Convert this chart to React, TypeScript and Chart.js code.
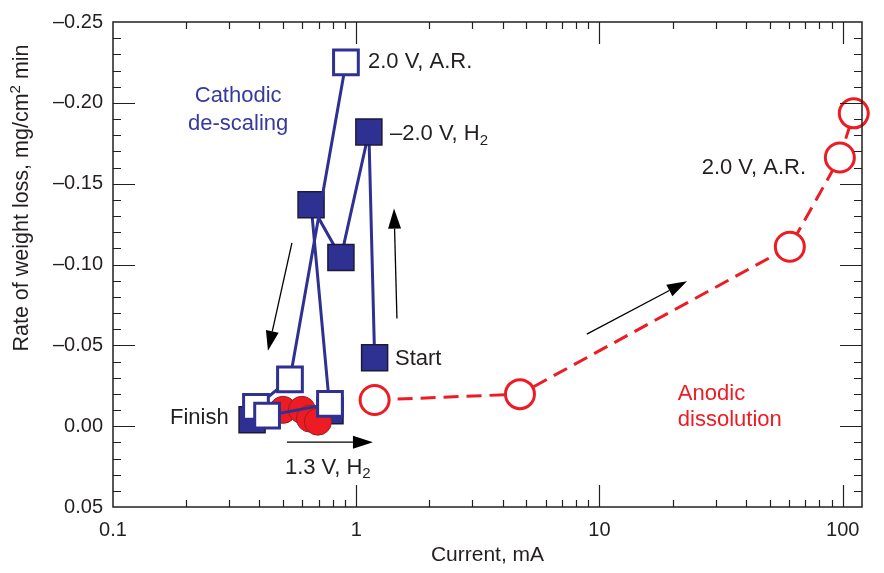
import React, { useEffect, useRef } from 'react';
import { Chart, registerables } from 'chart.js';

Chart.register(...registerables);

// ---------- data ----------
// Anodic dissolution, 2.0 V, A.R. (open red circles, dashed)
const anodicArCurrent = [1.19, 4.71, 60.6, 97.3, 111];
const anodicArRate = [-0.0162, -0.0198, -0.111, -0.1662, -0.1935];
// 1.3 V, H2 (filled red circles)
const anodicH2Current = [0.5, 0.598, 0.645, 0.696];
const anodicH2Rate = [-0.0101, -0.0101, -0.0047, -0.0028];
// Cathodic de-scaling, -2.0 V, H2 (filled blue squares): Start ... Finish
const cathodicH2Current = [1.19, 1.127, 0.865, 0.652, 0.78, 0.373];
const cathodicH2Rate = [-0.0423, -0.182, -0.1043, -0.137, -0.0095, -0.004];
// Cathodic, 2.0 V, A.R. (open blue squares)
const cathodicArCurrent = [0.907, 0.534, 0.387, 0.43, 0.78];
const cathodicArRate = [-0.225, -0.029, -0.012, -0.0065, -0.0138];

const xTickValues = [0.1, 1, 10, 100];
const xTickLabels = ['0.1', '1', '10', '100'];
const yTickValues = [-0.25, -0.2, -0.15, -0.1, -0.05, 0, 0.05];
const yTickLabels = ['\u20130.25', '\u20130.20', '\u20130.15', '\u20130.10', '\u20130.05', '0.00', '0.05'];

const xTitle = 'Current, mA';
const yTitleParts = [{ t: 'Rate of weight loss, mg/cm' }, { t: '2', s: 'sup' }, { t: ' min' }];

// annotation text anchors in data coordinates (current, rate)
const noteParts = [
  [{ t: '2.0 V, A.R.' }],
  [{ t: '\u20132.0 V, H' }, { t: '2', s: 'sub' }],
  [{ t: 'Cathodic' }],
  [{ t: 'de-scaling' }],
  [{ t: 'Start' }],
  [{ t: 'Finish' }],
  [{ t: '1.3 V, H' }, { t: '2', s: 'sub' }],
  [{ t: '2.0 V, A.R.' }],
  [{ t: 'Anodic' }],
  [{ t: 'dissolution' }],
];
const noteX = [1.117, 1.376, 0.327, 0.327, 1.443, 0.1715, 0.509, 26.3, 21.0, 21.0];
const noteY = [-0.2251, -0.1808, -0.2045, -0.1868, -0.0417, -0.0053, 0.0257, -0.1597, -0.0198, -0.004];
const noteAlign = ['left', 'left', 'center', 'center', 'left', 'left', 'left', 'left', 'left', 'left'];
const noteColor = ['ink', 'ink', 'blue', 'blue', 'ink', 'ink', 'ink', 'ink', 'red', 'red'];

// arrows (from -> to) in data coordinates
const arrowFromX = [0.544, 1.47, 0.519, 8.87];
const arrowFromY = [-0.1134, -0.0666, 0.0099, -0.0569];
const arrowToX = [0.4335, 1.43, 1.171, 22.9];
const arrowToY = [-0.0466, -0.1346, 0.0099, -0.0897];

// ---------- styling ----------
const INK = '#231f20';
const BLUE = '#2e3192';
const BLUE_TEXT = '#3639a0';
const RED = '#ed1c24';
const FONT = '"Liberation Sans", Arial, Helvetica, sans-serif';
const TICK_SIZE = 20;
const NOTE_SIZE = 22;
const X_TITLE_SIZE = 21;
const Y_TITLE_SIZE = 21.5;

const colorOf = (c: string) => (c === 'blue' ? BLUE_TEXT : c === 'red' ? RED : INK);

const toXY = (xs: number[], ys: number[]) => xs.map((x, i) => ({ x, y: ys[i] }));

function drawRich(ctx: CanvasRenderingContext2D, parts: any[], x: number, y: number, align: string, size: number, color: string) {
  const small = Math.round(size * 0.7);
  const widths = parts.map((p) => {
    ctx.font = `${p.s ? small : size}px ${FONT}`;
    return ctx.measureText(p.t).width;
  });
  const total = widths.reduce((a, b) => a + b, 0);
  let cx = align === 'center' ? x - total / 2 : align === 'right' ? x - total : x;
  ctx.fillStyle = color;
  ctx.textBaseline = 'middle';
  ctx.textAlign = 'left';
  parts.forEach((p, i) => {
    ctx.font = `${p.s ? small : size}px ${FONT}`;
    const dy = p.s === 'sub' ? size * 0.3 : p.s === 'sup' ? -size * 0.3 : 0;
    ctx.fillText(p.t, cx, y + dy);
    cx += widths[i];
  });
}

const overlay = {
  id: 'overlay',
  afterDatasetsDraw(chart: any) {
    const { ctx, chartArea: a } = chart;
    const xs = chart.scales.x;
    const ys = chart.scales.y;
    ctx.save();
    // ticks (inward)
    ctx.strokeStyle = INK;
    ctx.lineWidth = 1.2;
    ctx.beginPath();
    [0.1, 1, 10].forEach((d) => {
      [2, 3, 4, 5, 6, 7, 8, 9].forEach((m) => {
        const px = Math.round(xs.getPixelForValue(d * m)) + 0.5;
        ctx.moveTo(px, a.bottom); ctx.lineTo(px, a.bottom - 7);
        ctx.moveTo(px, a.top); ctx.lineTo(px, a.top + 7);
      });
    });
    xTickValues.slice(1).forEach((v) => {
      const px = Math.round(xs.getPixelForValue(v)) + 0.5;
      ctx.moveTo(px, a.bottom); ctx.lineTo(px, a.bottom - 22);
      ctx.moveTo(px, a.top); ctx.lineTo(px, a.top + 22);
    });
    for (let i = 1; i < 30; i++) {
      const v = -0.25 + i * 0.01;
      const py = Math.round(ys.getPixelForValue(v)) + 0.5;
      const major = i % 5 === 0;
      ctx.moveTo(a.left, py); ctx.lineTo(a.left + (major ? 22 : 8), py);
      ctx.moveTo(a.right, py); ctx.lineTo(a.right - (major ? 22 : 8), py);
    }
    ctx.stroke();
    // frame
    ctx.lineWidth = 1.5;
    ctx.strokeRect(a.left, a.top, a.right - a.left, a.bottom - a.top);

    // arrows
    ctx.strokeStyle = '#000';
    ctx.fillStyle = '#000';
    ctx.lineWidth = 1.3;
    arrowFromX.forEach((_, i) => {
      const x0 = xs.getPixelForValue(arrowFromX[i]);
      const y0 = ys.getPixelForValue(arrowFromY[i]);
      const x1 = xs.getPixelForValue(arrowToX[i]);
      const y1 = ys.getPixelForValue(arrowToY[i]);
      const ang = Math.atan2(y1 - y0, x1 - x0);
      const L = 20, W = 6.5;
      const bx = x1 - L * Math.cos(ang), by = y1 - L * Math.sin(ang);
      ctx.beginPath();
      ctx.moveTo(x0, y0); ctx.lineTo(bx, by);
      ctx.stroke();
      ctx.beginPath();
      ctx.moveTo(x1, y1);
      ctx.lineTo(bx + W * Math.sin(ang), by - W * Math.cos(ang));
      ctx.lineTo(bx - W * Math.sin(ang), by + W * Math.cos(ang));
      ctx.closePath();
      ctx.fill();
    });

    // notes
    noteParts.forEach((parts, i) => {
      drawRich(ctx, parts, xs.getPixelForValue(noteX[i]), ys.getPixelForValue(noteY[i]), noteAlign[i], NOTE_SIZE, colorOf(noteColor[i]));
    });

    // axis titles
    drawRich(ctx, [{ t: xTitle }], (a.left + a.right) / 2, a.bottom + 48, 'center', X_TITLE_SIZE, INK);
    ctx.translate(22, a.top + 176);
    ctx.rotate(-Math.PI / 2);
    drawRich(ctx, yTitleParts, 0, 0, 'center', Y_TITLE_SIZE, INK);
    ctx.restore();
  },
};

export default function App() {
  const ref = useRef<HTMLCanvasElement | null>(null);
  useEffect(() => {
    if (!ref.current) return;
    const chart = new Chart(ref.current, {
      type: 'scatter',
      data: {
        datasets: [
          {
            label: 'Cathodic 2.0 V A.R.',
            data: toXY(cathodicArCurrent, cathodicArRate),
            showLine: true,
            borderColor: BLUE,
            borderWidth: 3,
            pointStyle: 'rect',
            pointRadius: 17.5,
            pointBorderWidth: 3,
            pointBackgroundColor: '#ffffff',
            pointBorderColor: BLUE,
            clip: false,
          },
          {
            label: '1.3 V H2',
            data: toXY(anodicH2Current, anodicH2Rate),
            showLine: true,
            borderColor: RED,
            borderWidth: 2,
            pointStyle: 'circle',
            pointRadius: 13.5,
            pointBorderWidth: 1,
            pointBackgroundColor: RED,
            pointBorderColor: '#9e1b1f',
            clip: false,
          },
          {
            label: '-2.0 V H2',
            data: toXY(cathodicH2Current, cathodicH2Rate),
            showLine: true,
            borderColor: BLUE,
            borderWidth: 3,
            pointStyle: 'rect',
            pointRadius: 18.4,
            pointBorderWidth: 1.5,
            pointBackgroundColor: BLUE,
            pointBorderColor: '#1c1a3c',
            clip: false,
          },
          {
            label: 'Anodic 2.0 V A.R.',
            data: toXY(anodicArCurrent, anodicArRate),
            showLine: true,
            borderColor: RED,
            borderWidth: 3,
            borderDash: [15, 8],
            pointStyle: 'circle',
            pointRadius: 14.5,
            pointBorderWidth: 3,
            pointBackgroundColor: '#ffffff',
            pointBorderColor: RED,
            clip: false,
          },
        ],
      },
      options: {
        animation: false,
        responsive: false,
        devicePixelRatio: 1,
        events: [],
        layout: { padding: { left: 0, top: 13, right: 22, bottom: 0 } },
        plugins: { legend: { display: false }, tooltip: { enabled: false } },
        scales: {
          x: {
            type: 'logarithmic',
            min: 0.1,
            max: 120,
            grid: { display: false, drawTicks: false },
            border: { display: false },
            afterBuildTicks: (s: any) => { s.ticks = xTickValues.map((v) => ({ value: v })); },
            afterFit: (s: any) => { s.height = 66; },
            ticks: {
              color: INK,
              font: { family: FONT, size: TICK_SIZE },
              padding: 11,
              maxRotation: 0,
              autoSkip: false,
              callback: (v: any) => xTickLabels[xTickValues.indexOf(Number(v))] ?? '',
            },
          },
          y: {
            type: 'linear',
            reverse: true,
            min: -0.25,
            max: 0.05,
            grid: { display: false, drawTicks: false },
            border: { display: false },
            afterBuildTicks: (s: any) => { s.ticks = yTickValues.map((v) => ({ value: v })); },
            afterFit: (s: any) => { s.width = 113; },
            ticks: {
              color: INK,
              font: { family: FONT, size: TICK_SIZE },
              padding: 10,
              autoSkip: false,
              callback: (v: any, i: number) => yTickLabels[i] ?? '',
            },
          },
        },
      },
      plugins: [overlay],
    });
    return () => chart.destroy();
  }, []);
  return (
    <div style={{ position: 'fixed', left: 0, top: 0, width: 884, height: 573, background: '#fff' }}>
      <canvas ref={ref} width={884} height={573} style={{ display: 'block' }} />
    </div>
  );
}
